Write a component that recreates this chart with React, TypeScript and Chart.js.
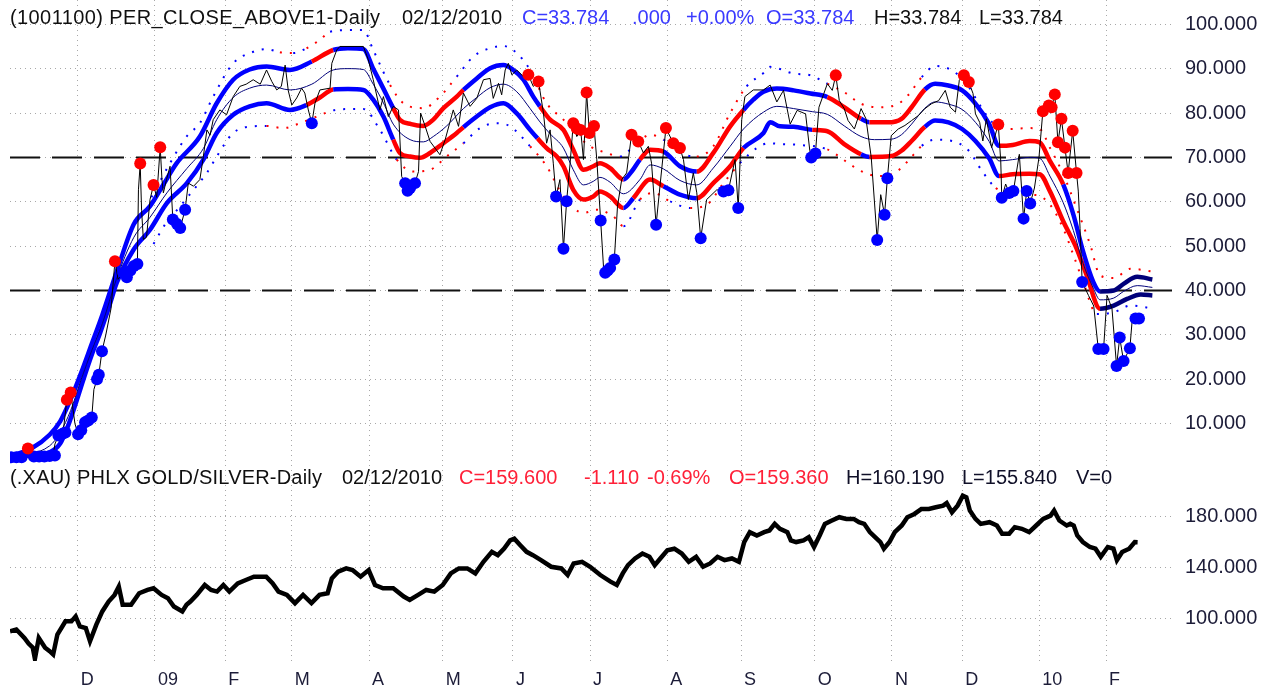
import React, { useEffect, useRef } from "react";
import { Chart, registerables } from "chart.js";

Chart.register(...registerables);

// x = trading-day index (0 = 2008-11-03)
const monthTicks = [19, 41, 61, 80, 102, 123, 143, 165, 187, 208, 229, 251, 271, 293, 312];
const monthLabels = ["D", "09", "F", "M", "A", "M", "J", "J", "A", "S", "O", "N", "D", "10", "F"];
const topTicks = [10, 20, 30, 40, 50, 60, 70, 80, 90, 100];
const bottomTicks = [100, 140, 180];
const refLines = [70, 40];

const price = [[0,2.2],[3,2.3],[4.8,4.4],[6,2.6],[9,2.5],[12,2.8],[12.5,5.4],[13.5,7.3],[14.8,7.8],[15.9,15.4],[17,17],[18.2,10],[19.1,7.6],[20,8.5],[21.1,10.3],[22,10.7],[23,11.4],[23.6,17.7],[24.5,20],[25,21],[25.9,26.3],[27,30],[28.5,36],[29.6,46.6],[30.5,42.5],[32,44],[33,43],[34,44.5],[35,45.5],[36,46],[36.3,62.7],[36.8,68.6],[37.2,58],[37.7,51.5],[38.6,52],[39.6,60.5],[40.6,63.8],[41.5,61],[42.5,72.3],[43,65],[43.4,62],[44.3,65],[45.3,68],[46.1,56],[47.3,55],[48.2,54.1],[49.6,58.2],[50.5,64.2],[52,63.5],[53.8,65],[54.8,70.2],[55.8,76.2],[56.7,75],[57.6,78.5],[59.5,80.7],[61.4,79.6],[63.3,83.7],[65.2,86],[67,86.5],[69,87.5],[71,86.5],[72.8,89.7],[74.3,87.1],[75.7,85.2],[77,86],[78.1,90.8],[79,85],[80,81.8],[81.4,83.4],[82.8,85.6],[83.7,84.5],[84.7,80.7],[85.7,77.7],[86.6,82.2],[88,85.2],[90.9,85.6],[91.4,91.2],[92.8,94.2],[93.7,95],[100.4,95],[101.8,92],[103.2,87.5],[105.1,80.7],[106.1,83.7],[107.5,79.2],[108.9,81.5],[110.4,80.7],[111.3,65.7],[112.3,64.2],[113,62.5],[113.7,63.1],[115.1,64.2],[116.1,66.8],[116.7,80],[118,77],[119.4,73.6],[120.8,72.1],[122.2,70.6],[123.7,74],[126,80.7],[127.5,77],[128.9,84.5],[130.8,81.5],[132.7,83.3],[134.6,87.5],[136.5,87.8],[137.4,83.3],[138.9,86.7],[139.8,84.1],[140.8,89.7],[141.7,91.2],[142.7,88.6],[144.1,89.7],[146,88.2],[147.4,88.6],[148.8,86],[150.3,87.1],[151.7,80],[152.6,73.2],[153.6,76.2],[154.5,68.7],[155.3,61.2],[156.4,65],[157.4,49.4],[158.3,60.1],[159.3,68.7],[160.2,77.7],[161.2,74.7],[162.3,76.2],[163.1,69.5],[164,84.6],[164.8,75.5],[166.1,77.1],[166.9,69.5],[168,55.8],[168.8,45.5],[169.3,44],[170,44.5],[170.7,45.1],[171.9,47],[172.8,59],[174,65],[175.4,66.5],[176.8,75.1],[178.7,73.6],[180.2,71],[181.6,72.5],[182.5,68.7],[183.8,54.8],[184.9,63.5],[186.6,76.6],[188.7,73.2],[190.6,72.1],[191.6,69.5],[193,60.5],[194.4,66.5],[195.4,62],[196.5,51.8],[198.2,60.5],[201.1,62.7],[203,62.3],[204.4,62.6],[206.3,69.5],[207.2,58.6],[208.2,78.5],[209.1,83.7],[211.5,85.2],[214.4,85.2],[216.3,86.3],[218.2,82.5],[220.1,85.1],[222,77.5],[224,80.6],[226.4,79.8],[227.6,71.5],[228,70],[229.2,70.9],[230.2,81.3],[231.6,84.4],[232.6,86.6],[234,85.1],[235,88.5],[236,82.8],[237.4,81],[238.5,78.3],[240.3,76.4],[242.2,81],[243.6,78.7],[245.1,70],[246.8,51.4],[247.8,61.6],[248.9,57.1],[249.7,65.3],[250.8,74.9],[252.8,76.4],[254.7,77.2],[256.6,78.3],[258.5,79.4],[260.4,81],[262.3,82.1],[264.3,82.8],[266.2,85.1],[267.6,81.3],[269.1,80.2],[270.2,87.4],[271.5,88.5],[272.9,87],[274.1,84.4],[274.8,79.8],[276,77.9],[276.9,73.7],[277.9,78.7],[279.4,72.2],[281.3,77.4],[282,69.2],[282.3,60.9],[283.4,64],[284.4,62],[285.6,62.4],[287.3,70.7],[288.5,56.2],[289.4,62.4],[290.4,59.6],[291.6,63.1],[292.9,70],[294,80.4],[295.7,81.7],[296.5,81.3],[297.4,84.2],[298.3,73.4],[299.3,78.7],[300.3,72.2],[301.2,66.5],[302.5,76],[303.6,66.5],[304.1,62.4],[304.6,54],[305.2,41.9],[307,38.9],[308.5,36.5],[309.8,26.8],[311.3,26.8],[312.3,38.9],[313.7,35.9],[315,23],[315.9,29.4],[317,24.1],[318.8,27],[319.4,32.8],[320.4,33.7],[321,33.78]];

const upperBand = [[0,2.7],[6,4.5],[11,7.5],[14,10.5],[17,15.5],[20,21.5],[23,28],[26,34.5],[30,44],[35,55],[39.6,59],[43.5,64],[47.2,68.7],[53.8,74.7],[58.6,82.2],[63.3,87.5],[68,89.8],[72.8,90.5],[79.5,89.7],[85.7,91.6],[91.8,94.2],[96,94.6],[100.4,94.4],[103.2,90],[106.1,85.5],[108.9,81.1],[110.8,78.5],[114,77.5],[117.5,77.1],[120.3,78.5],[123.2,81.1],[127,83.7],[128.9,85.2],[132.7,87.8],[136.5,90.1],[140.3,90.8],[143.1,89.7],[146,87.5],[148.8,83.7],[150.7,81.5],[153.6,78.5],[157.4,76.2],[160.2,71.7],[163.1,67.2],[165.9,68],[167.8,68.7],[170.7,67.6],[174.5,65],[177,67],[179.2,69.5],[182.1,71.7],[185.9,71.3],[190.6,68],[195.4,66.8],[200.1,71],[204.9,77],[208.7,80.7],[211.5,83],[214.4,84.8],[218.2,85.5],[223,85.1],[227.8,84.4],[232.6,83.6],[237.4,81.3],[242.2,78.7],[244.6,77.9],[249.9,77.9],[253.7,78.7],[256.6,81.3],[260.4,85.3],[263.3,86.6],[267.1,86.2],[271,85.1],[274.8,82.1],[278.7,77.5],[281.5,72.6],[285.4,72.8],[290.2,73.7],[293.1,73.4],[296,69.2],[299.8,63.9],[302.7,57.1],[305.5,48.7],[308.4,41.9],[310.3,39.8],[314.2,40],[317,41.5],[320.9,43.1],[325.2,42.5]];

const lowerBand = [[0,2.5],[6,2.8],[11,3.5],[14,5.5],[16,9],[18,13.5],[20.6,19.9],[23,25.5],[25.4,30.5],[28,36.5],[30.1,41.7],[34.9,49.2],[39.6,53.7],[44.4,59.7],[50.1,64.2],[54.8,69.5],[58.6,75.5],[63.3,79.6],[68,81.5],[72.8,82.2],[79.5,80.7],[84.2,81.8],[88,83.5],[91.8,85.3],[96,85.4],[100.4,85.2],[103.2,83],[106.1,79.2],[108.9,74],[110.8,71],[113.7,70.2],[116.5,69.9],[119.4,71],[123.2,73.2],[127,75.5],[128.9,76.8],[132.7,79.2],[136.5,81.3],[140.3,82.2],[144.1,79.9],[147.9,76.2],[150,74.3],[152.6,72.1],[155.5,70.2],[157.4,68],[160.2,62.7],[163.1,60.5],[165.9,61.2],[167.8,62.3],[170.7,61.2],[174.5,58.6],[177.3,60.8],[182.1,65],[185.9,63.5],[190.6,61.6],[195.4,60.8],[200.1,64.2],[204.9,68],[208.7,72.1],[214.4,75.5],[216.3,77.9],[219.1,77],[223,76.9],[228.3,76.2],[232.6,75.9],[237.4,73],[242.2,70.7],[244.6,70.1],[250.8,70.3],[253.7,71.5],[256.6,73.7],[260.4,76.9],[263.3,78.3],[267.1,77.9],[271,76.4],[274.8,73.7],[278.7,69.8],[281.5,65.8],[285.4,66.2],[290.2,66.3],[293.1,66.2],[296,62.4],[299.8,55.6],[303.6,49.5],[306.5,43.4],[310.3,35.9],[314.2,36.6],[318,38.1],[321.9,39.1],[325.2,38.9]];

const midBand = [[0,2.6],[11,5],[14,8],[17,13],[20,20],[23,26.5],[26,32.5],[30,42.5],[35,52],[39.6,56.5],[44.4,62],[50.1,67.5],[54.8,72],[58.6,78.5],[63.3,83.5],[68,85.6],[72.8,86.3],[79.5,85.2],[85.7,86.5],[91.8,89.7],[96,90],[100.4,89.8],[103.2,86.5],[106.1,82.3],[108.9,77.5],[113.7,74],[117.5,73.5],[120.3,74.7],[124,77],[128.9,81],[132.7,83.5],[136.5,85.7],[140.3,86.5],[144.1,84.8],[147.9,81],[150.7,78],[153.6,75.3],[157.4,72.1],[160.2,67.2],[163.1,63.8],[165.9,64.6],[167.8,65.5],[170.7,64.4],[174.5,61.8],[179.2,65],[182.1,68.3],[185.9,67.4],[190.6,64.8],[195.4,63.8],[200.1,67.6],[204.9,72.5],[208.7,76.4],[214.4,80.2],[218.2,81.5],[223,81],[228.3,80.3],[232.6,79.7],[237.4,77.1],[242.2,74.7],[246,74],[250.8,74.1],[253.7,75.1],[256.6,77.5],[260.4,81.1],[263.3,82.5],[267.1,82],[271,80.8],[274.8,77.9],[278.7,73.6],[281.5,69.2],[285.4,69.5],[290.2,70],[293.1,69.8],[296,65.8],[299.8,59.8],[302.7,53.5],[305.5,46],[308.4,40.5],[310.3,37.9],[314.2,38.3],[317,39.8],[320.9,41.1],[325.2,40.7]];

const outerUpper = [[40,61],[45.3,68.7],[50,74.7],[53.8,77.7],[57.6,83.7],[63.3,91.2],[69,93.8],[72.8,94.4],[76.6,93.7],[80.4,93.5],[84.2,94.6],[88,96.5],[90.9,98.3],[96.6,98.7],[100.4,98.7],[103.2,94.2],[108,86.3],[111.8,82.2],[117.5,81.1],[122.2,83.7],[127,88.2],[131.7,92.7],[136.5,94.6],[140.3,95.1],[144.1,93.5],[147.9,89.7],[152.6,82.2],[157.4,78.5],[161.2,75.1],[165,72.5],[169.7,71],[173.5,70.2],[178.3,73.2],[182.1,75.1],[185.9,74],[190.6,71],[195.4,70.2],[200.1,72.5],[204.9,80],[209.6,86],[214.4,89],[216.3,90.4],[223,88.9],[227.8,88.5],[232.6,86.6],[237.4,84.7],[242.2,82.1],[247,81.3],[251.8,81.7],[255.6,84],[259.5,88.1],[263.3,90.6],[267.1,90],[271.9,87],[275.8,82.1],[279.6,77.9],[284.4,76.4],[290.2,76.6],[293.1,76.4],[296,72.2],[299.8,66.2],[303.6,58.6],[307.5,50.3],[310.3,43.4],[314.2,42.8],[319,44.9],[325.2,44.3]];

const outerLower = [[40.6,50.5],[44,55],[48.2,59],[52,62.7],[55.8,66.5],[58.6,70.2],[63.3,75.5],[69,77],[72.8,77.1],[77.6,76.6],[82.3,77.7],[87.1,79.2],[91.8,80.6],[96.6,80.9],[100.4,80.9],[105.1,76.2],[109.9,69.5],[114.6,66.8],[119.4,67.2],[124.1,70.2],[128.9,73.2],[133.6,76.6],[138.4,77.7],[142.2,77],[147.9,72.5],[152.6,68],[157.4,61.2],[163.1,57.5],[166.9,58.2],[171.6,56.7],[174.5,54.5],[179.2,60.5],[183,62],[187.8,60.1],[193.5,58.6],[198.2,59.3],[203,64.2],[207.7,68.7],[212.5,72.1],[216,73.2],[219.2,73],[224.9,72.8],[232.6,71.8],[238.4,68.8],[242.2,66.9],[247,65.8],[251.8,66.5],[255.6,69.2],[259.5,72.6],[263.3,74],[268.1,73.7],[272.9,71.5],[276.7,66.9],[280.6,63.1],[286.3,61.6],[292.1,61.5],[296,59.4],[299.8,54],[302.7,48],[305.5,41.9],[309.4,34.7],[314.2,35.1],[319,36.6],[325.7,35.9]];

// index ranges where the bands are drawn red
const upperRed = [[85.7,91.8],[108.9,128.9],[150.7,174.5],[179.2,185.9],[195.4,208.7],[232.6,242.2],[244.6,260.4],[281.5,299.8]];
const lowerRed = [[84.2,91.8],[108.9,128.9],[150,174.5],[179.2,185.9],[195.4,208.7],[228.3,242.2],[244.6,260.4],[281.5,310.3]];
const outerRed = [[75,81],[84,92],[108,129],[150,175],[179,186],[195,209],[232,260],[281,310]];
const navyFrom = 310.3;

const redMarks = [[4.8,4.4],[15.9,15.4],[17,17],[29.6,46.6],[36.8,68.6],[40.6,63.8],[42.5,72.3],[147.4,88.6],[150.3,87.1],[160.2,77.7],[161.2,76.5],[162.3,76.2],[164,84.6],[164.8,75.5],[166.1,77.1],[176.8,75.1],[178.7,73.6],[186.6,76.6],[188.7,73.2],[190.6,72.1],[235,88.5],[271.5,88.5],[272.9,87],[281.3,77.4],[294,80.4],[295.7,81.7],[296.5,81.3],[297.4,84.2],[298.3,73.4],[299.3,78.7],[300.3,72.2],[301.2,66.5],[302.5,76],[303.6,66.5]];

const blueMarks = [[0,2.4],[1.5,2.4],[3,2.4],[6.5,2.6],[8,2.6],[9.5,2.6],[11,2.7],[12.5,2.8],[13.5,7.3],[14.8,7.8],[15.5,8],[19.1,7.6],[20,8.5],[21.1,10.3],[22,10.7],[23,11.4],[24.5,20],[25,21],[25.9,26.3],[32,44],[33,43],[34,44.5],[35,45.5],[36,46],[46.1,56],[47.3,55],[48.2,54.1],[49.6,58.2],[85.7,77.7],[112.3,64.2],[113,62.5],[113.7,63.1],[115.1,64.2],[155.3,61.2],[157.4,49.4],[158.3,60.1],[168,55.8],[169.3,44],[170,44.5],[170.7,45.1],[171.9,47],[183.8,54.8],[196.5,51.8],[203,62.3],[204.4,62.6],[207.2,58.6],[228,70],[229.2,70.9],[246.8,51.4],[248.9,57.1],[249.7,65.3],[282.3,60.9],[284.4,62],[285.6,62.4],[288.5,56.2],[289.4,62.4],[290.4,59.6],[305.2,41.9],[309.8,26.8],[311.3,26.8],[315,23],[315.9,29.4],[317,24.1],[318.8,27],[320.4,33.7],[321.4,33.7]];

const xau = [[-0.3,89.6],[1.5,91],[3.8,84.4],[5,80],[6.2,76.7],[6.8,68],[7.9,84.4],[9.7,76.7],[11,74],[12,71.4],[13.2,87],[15.5,97.4],[17.2,97.4],[18.4,101.3],[19.6,93.5],[21.3,92.2],[22.5,81.8],[24.3,94.8],[26,105.2],[27.8,113],[29.5,118.2],[30.7,124.7],[31.8,110.4],[34.2,110.4],[36.5,119.5],[38.9,122.1],[40.6,123.4],[42.9,118.2],[44.7,115.6],[46.4,109.1],[48.8,105.2],[50,110.4],[51.1,113],[52.9,118.2],[55.2,126],[57,122.1],[58.7,120.8],[60.5,126],[62.2,120.8],[64.6,127.3],[66.9,129.9],[69.2,132.5],[72.7,132.5],[74.5,127.3],[76.2,120.8],[78.6,118.2],[80.9,111.7],[83.2,118.2],[85.6,111.7],[87.9,118.2],[90.2,119.5],[91.4,131.2],[93.2,136.4],[95.5,139],[97.3,137.7],[99.6,132.5],[101.9,137.7],[103.7,126],[106,123.4],[108.9,123.4],[111.9,116.9],[113.6,114.3],[116,118.2],[118.3,122.1],[120.6,120.8],[123,126],[125.3,135.1],[127.6,139],[130,139],[132.3,135.1],[134.6,144.2],[137,152],[138.7,149.4],[140.5,154.6],[142.2,161],[143.4,162.3],[145.1,157.2],[146.9,152],[148.7,149.4],[151,145.5],[153.9,140.3],[156.8,139],[158.6,133.8],[160.3,142.9],[162.7,144.2],[165,140.3],[167.9,133.8],[170.8,128.6],[172.6,126],[174.3,135.1],[175.8,141.6],[177.8,146.8],[179.9,150.7],[181.9,148.1],[183.4,141.6],[185,146.8],[187,153.3],[189,154.5],[191.1,150.7],[193.1,144.2],[195.2,148.1],[197.2,140.3],[199.2,142.9],[201.3,148.1],[203.3,145.5],[205.4,146.8],[207.4,144.2],[208.9,159.7],[210.5,167.5],[212.5,164.9],[214.6,167.5],[216.1,168.8],[217.6,174],[219.1,170.1],[221.2,167.5],[222.2,161],[223.7,159.7],[225.8,161],[227.3,163.6],[228.8,155.8],[230.4,164.9],[231.9,174],[233.9,176.6],[236,179.2],[238,177.9],[240.1,177.9],[241.6,175.3],[243.1,174],[244.7,167.5],[246.2,163.6],[247.7,159.7],[248.7,154.5],[250.3,159.7],[251.8,167.5],[253.8,172.7],[255.4,179.2],[257.4,181.8],[259.4,185.7],[261.5,185.7],[263.5,187],[265.6,188.3],[266.6,190.4],[268.1,183.1],[269.7,188.3],[271.2,196.1],[272.2,194.8],[273.2,184.4],[274.8,177.9],[276.3,174],[278.8,175.3],[280.9,172.7],[282.4,166.2],[284.4,166.2],[286,171.4],[288,170.1],[290.1,167.5],[292.1,172.7],[294.1,177.9],[296.2,180.5],[297.2,184.4],[298.7,176.6],[300.8,172.7],[301.8,174],[302.8,172.7],[303.8,164.9],[305.4,159.7],[307.4,155.8],[309,154.5],[310.5,148.1],[312.5,155.8],[314.1,154.5],[315.1,145.5],[316.6,151.9],[318.6,154.5],[320.2,159.7],[321,159.6]];

const topTitle = [
  { x: 10, text: "(1001100) PER_CLOSE_ABOVE1-Daily", color: "#101010", ls: 0.4 },
  { x: 402, text: "02/12/2010", color: "#101010", ls: 0 },
  { x: 522, text: "C=33.784", color: "#3a3aff", ls: 0 },
  { x: 632, text: ".000", color: "#3a3aff", ls: 0 },
  { x: 686, text: "+0.00%", color: "#3a3aff", ls: 0 },
  { x: 766, text: "O=33.784", color: "#3a3aff", ls: 0 },
  { x: 874, text: "H=33.784", color: "#101010", ls: 0 },
  { x: 979, text: "L=33.784", color: "#101010", ls: 0 },
];
const bottomTitle = [
  { x: 10, text: "(.XAU) PHLX GOLD/SILVER-Daily", color: "#101010", ls: 0.2 },
  { x: 342, text: "02/12/2010", color: "#101010", ls: 0 },
  { x: 459, text: "C=159.600", color: "#ff2038", ls: 0 },
  { x: 584, text: "-1.110", color: "#ff2038", ls: 0 },
  { x: 647, text: "-0.69%", color: "#ff2038", ls: 0 },
  { x: 729, text: "O=159.360", color: "#ff2038", ls: 0 },
  { x: 846, text: "H=160.190", color: "#101028", ls: 0 },
  { x: 962, text: "L=155.840", color: "#101028", ls: 0 },
  { x: 1076, text: "V=0", color: "#101028", ls: 0 },
];

const RED = "#ff0000";
const BLUE = "#0000ff";
const NAVY = "#00007a";
const GRID = "#a8a8a8";
const AXIS_TEXT = "#1c1c38";
const FONT = "'Liberation Sans', Arial, sans-serif";

export default function App() {
  const ref = useRef<HTMLCanvasElement>(null);

  useEffect(() => {
    if (!ref.current) return;
    const pts = (a: number[][]) => a.map(([x, y]) => ({ x, y }));
    const inRanges = (x: number, r: number[][]) => r.some(([a, b]) => x >= a && x < b);
    const segColor = (ranges: number[][], tailColor: string) => (ctx: any) => {
      const m = (ctx.p0.parsed.x + ctx.p1.parsed.x) / 2;
      if (m >= navyFrom) return tailColor;
      return inRanges(m, ranges) ? RED : BLUE;
    };
    const xmin = -0.3;
    const xmax = 330.8;
    const noPad = (s: any) => { s.paddingTop = 0; s.paddingBottom = 0; s.paddingLeft = 0; s.paddingRight = 0; };

    const chart = new Chart(ref.current, {
      type: "line",
      data: {
        datasets: [
          {
            data: pts(redMarks), yAxisID: "y", showLine: false, order: 0,
            pointRadius: 6, pointBackgroundColor: RED, pointBorderColor: RED, pointBorderWidth: 0,
          },
          {
            data: pts(blueMarks), yAxisID: "y", showLine: false, order: 0,
            pointRadius: 6, pointBackgroundColor: BLUE, pointBorderColor: BLUE, pointBorderWidth: 0,
          },
          {
            data: pts(price), yAxisID: "y", order: 1, borderColor: "#000", borderWidth: 1, pointRadius: 0,
          },
          {
            data: pts(midBand), yAxisID: "y", order: 2, borderColor: NAVY, borderWidth: 1, pointRadius: 0,
            cubicInterpolationMode: "monotone",
          },
          {
            data: pts(upperBand), yAxisID: "y", order: 3, borderColor: BLUE, borderWidth: 4.5, pointRadius: 0,
            cubicInterpolationMode: "monotone", segment: { borderColor: segColor(upperRed, NAVY) },
          },
          {
            data: pts(lowerBand), yAxisID: "y", order: 3, borderColor: BLUE, borderWidth: 4.5, pointRadius: 0,
            cubicInterpolationMode: "monotone", segment: { borderColor: segColor(lowerRed, NAVY) },
          },
          {
            data: pts(outerUpper), yAxisID: "y", order: 4, borderColor: BLUE, borderWidth: 2, pointRadius: 0,
            borderDash: [2, 8], cubicInterpolationMode: "monotone", segment: { borderColor: segColor(outerRed, RED) },
          },
          {
            data: pts(outerLower), yAxisID: "y", order: 4, borderColor: BLUE, borderWidth: 2, pointRadius: 0,
            borderDash: [2, 8], cubicInterpolationMode: "monotone", segment: { borderColor: segColor(outerRed, BLUE) },
          },
          ...refLines.map((v) => ({
            data: [{ x: xmin, y: v }, { x: xmax, y: v }], yAxisID: "y", order: 5,
            borderColor: "#111", borderWidth: 2, borderDash: [30, 12], pointRadius: 0,
          })),
          {
            data: pts(xau), yAxisID: "y2", order: 1, borderColor: "#000", borderWidth: 4.5, pointRadius: 0,
            borderJoinStyle: "miter",
          },
        ] as any,
      },
      options: {
        animation: false,
        responsive: false,
        devicePixelRatio: 1,
        events: [],
        layout: { autoPadding: false, padding: { left: 10, right: 0, top: 0, bottom: 3 } },
        plugins: { legend: { display: false }, tooltip: { enabled: false } },
        scales: {
          x: {
            type: "linear", min: xmin, max: xmax,
            afterBuildTicks: (s: any) => { s.ticks = monthTicks.map((v) => ({ value: v })); },
            afterFit: (s: any) => { s.height = 30; noPad(s); },
            ticks: {
              autoSkip: false, maxRotation: 0, minRotation: 0, align: "start", labelOffset: 3, padding: 8,
              color: AXIS_TEXT, font: { family: FONT, size: 18 },
              callback: (_v: any, i: number) => monthLabels[i] ?? "",
            },
            grid: { color: GRID, lineWidth: 1, drawTicks: false },
            border: { display: false, dash: [1, 4] },
          },
          y: {
            type: "linear", position: "right", stack: "panels", stackWeight: 466, weight: 0,
            min: 0.61, max: 105.47,
            afterBuildTicks: (s: any) => { s.ticks = topTicks.map((v) => ({ value: v })); },
            afterFit: (s: any) => { s.width = 103; noPad(s); },
            ticks: {
              padding: 13, color: AXIS_TEXT, font: { family: FONT, size: 20 },
              callback: (v: any) => Number(v).toFixed(3),
            },
            grid: { color: GRID, lineWidth: 1, drawTicks: false },
            border: { display: false, dash: [1, 4] },
          },
          y2: {
            type: "linear", position: "right", stack: "panels", stackWeight: 196, weight: 1,
            min: 66.27, max: 220,
            afterBuildTicks: (s: any) => { s.ticks = bottomTicks.map((v) => ({ value: v })); },
            afterFit: (s: any) => { s.width = 103; noPad(s); },
            ticks: {
              padding: 13, color: AXIS_TEXT, font: { family: FONT, size: 20 },
              callback: (v: any) => Number(v).toFixed(3),
            },
            grid: { color: GRID, lineWidth: 1, drawTicks: false },
            border: { display: false, dash: [1, 4] },
          },
        },
      } as any,
    });
    return () => chart.destroy();
  }, []);

  const textStyle = (x: number, top: number, color: string, ls: number): React.CSSProperties => ({
    position: "absolute", left: x, top, color, font: `20px ${FONT}`, lineHeight: "20px",
    whiteSpace: "pre", pointerEvents: "none", letterSpacing: ls ? `${ls}px` : undefined,
  });

  return (
    <div style={{ position: "absolute", left: 0, top: 0, width: 1275, height: 694, background: "#fff", overflow: "hidden" }}>
      <canvas ref={ref} width={1275} height={694} style={{ position: "absolute", left: 0, top: 0 }} />
      {topTitle.map((t, i) => (
        <span key={"t" + i} style={textStyle(t.x, 7, t.color, t.ls)}>{t.text}</span>
      ))}
      {bottomTitle.map((t, i) => (
        <span key={"b" + i} style={textStyle(t.x, 467, t.color, t.ls)}>{t.text}</span>
      ))}
    </div>
  );
}
